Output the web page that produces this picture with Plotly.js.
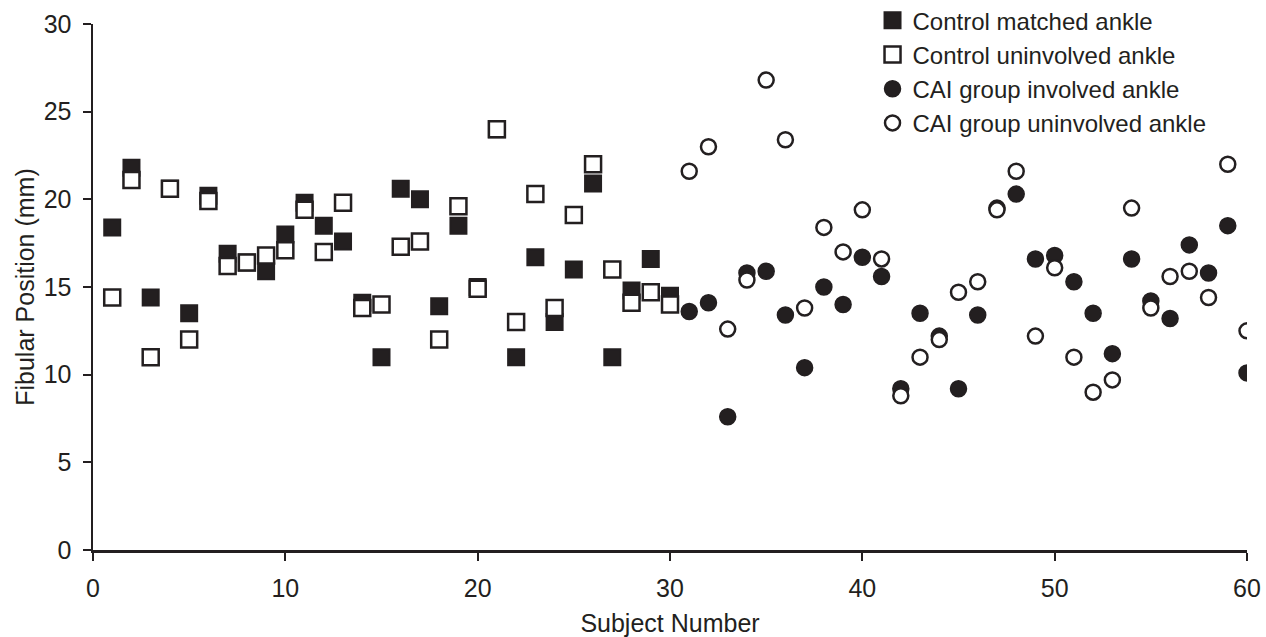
<!DOCTYPE html>
<html>
<head>
<meta charset="utf-8">
<script src="https://cdn.plot.ly/plotly-3.0.1.min.js"></script>
<style>html,body{margin:0;padding:0;background:#fff;}#chart{width:1266px;height:637px;}</style>
</head>
<body>
<div id="chart"></div>
<script>
// Subjects 1-30: control group; 31-60: CAI group
const controlSubjects = [1,2,3,4,5,6,7,8,9,10,11,12,13,14,15,16,17,18,19,20,21,22,23,24,25,26,27,28,29,30];
const controlMatched = [18.4,21.8,14.4,20.6,13.5,20.2,16.9,16.4,15.9,18.0,19.8,18.5,17.6,14.1,11.0,20.6,20.0,13.9,18.5,15.0,24.0,11.0,16.7,13.0,16.0,20.9,11.0,14.8,16.6,14.5];
const controlUninvolved = [14.4,21.1,11.0,20.6,12.0,19.9,16.2,16.4,16.8,17.1,19.4,17.0,19.8,13.8,14.0,17.3,17.6,12.0,19.6,14.9,24.0,13.0,20.3,13.8,19.1,22.0,16.0,14.1,14.7,14.0];
const caiSubjects = [31,32,33,34,35,36,37,38,39,40,41,42,43,44,45,46,47,48,49,50,51,52,53,54,55,56,57,58,59,60];
const caiInvolved = [13.6,14.1,7.6,15.8,15.9,13.4,10.4,15.0,14.0,16.7,15.6,9.2,13.5,12.2,9.2,13.4,19.5,20.3,16.6,16.8,15.3,13.5,11.2,16.6,14.2,13.2,17.4,15.8,18.5,10.1];
const caiUninvolved = [21.6,23.0,12.6,15.4,26.8,23.4,13.8,18.4,17.0,19.4,16.6,8.8,11.0,12.0,14.7,15.3,19.4,21.6,12.2,16.1,11.0,9.0,9.7,19.5,13.8,15.6,15.9,14.4,22.0,12.5];

const ink = '#231f20';
const font = {family: 'Liberation Sans, Arial, sans-serif', size: 25, color: ink};
const legendFont = {family: 'Liberation Sans, Arial, sans-serif', size: 24, color: ink};

const traces = [
  {x: controlSubjects, y: controlMatched, name: 'Control matched ankle', mode: 'markers', type: 'scatter',
   marker: {symbol: 'square', size: 16, color: ink, line: {color: ink, width: 2}}},
  {x: controlSubjects, y: controlUninvolved, name: 'Control uninvolved ankle', mode: 'markers', type: 'scatter',
   marker: {symbol: 'square', size: 16, color: '#ffffff', line: {color: ink, width: 2.5}}},
  {x: caiSubjects, y: caiInvolved, name: 'CAI group involved ankle', mode: 'markers', type: 'scatter',
   marker: {symbol: 'circle', size: 16, color: ink, line: {color: ink, width: 1.5}}},
  {x: caiSubjects, y: caiUninvolved, name: 'CAI group uninvolved ankle', mode: 'markers', type: 'scatter',
   marker: {symbol: 'circle', size: 15, color: '#ffffff', line: {color: ink, width: 2.5}}}
];

const layout = {
  width: 1266, height: 637,
  margin: {l: 93, r: 19, t: 24, b: 87, autoexpand: false},
  paper_bgcolor: '#ffffff', plot_bgcolor: '#ffffff',
  font: font,
  showlegend: true,
  legend: {x: 0.6755, y: 1.049, xanchor: 'left', yanchor: 'top', bgcolor: 'rgba(0,0,0,0)',
           font: legendFont, itemwidth: 30, tracegroupgap: 0},
  xaxis: {range: [0, 60], tickvals: [0,10,20,30,40,50,60], showgrid: false, zeroline: false,
          showline: true, linecolor: ink, linewidth: 2.5, ticks: 'outside', ticklen: 8, tickwidth: 2, tickcolor: ink,
          ticklabelstandoff: 6,
          title: {text: 'Subject Number', font: font, standoff: 14}},
  yaxis: {range: [0, 30], tickvals: [0,5,10,15,20,25,30], showgrid: false, zeroline: false,
          showline: true, linecolor: ink, linewidth: 2.5, ticks: 'outside', ticklen: 8, tickwidth: 2, tickcolor: ink,
          ticklabelstandoff: 6,
          title: {text: 'Fibular Position (mm)', font: font, standoff: 2}}
};

Plotly.newPlot('chart', traces, layout, {displayModeBar: false, staticPlot: true});
</script>
</body>
</html>
